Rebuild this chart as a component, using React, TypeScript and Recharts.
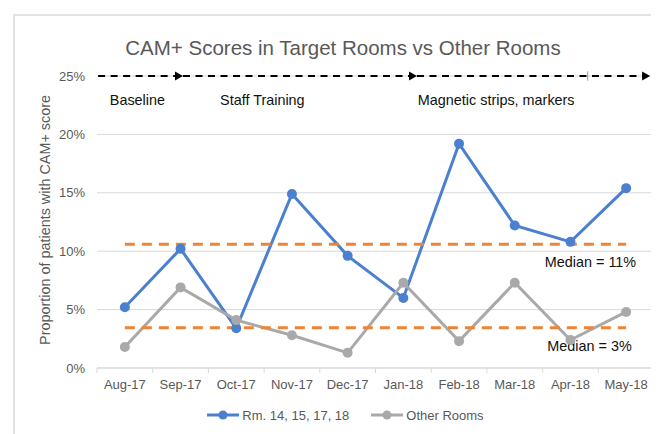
import React from 'react';
import { LineChart, Line, XAxis, YAxis, CartesianGrid, ReferenceLine, ReferenceDot, Legend } from 'recharts';

const months = ['Aug-17', 'Sep-17', 'Oct-17', 'Nov-17', 'Dec-17', 'Jan-18', 'Feb-18', 'Mar-18', 'Apr-18', 'May-18'];
const targetRooms = [5.2, 10.2, 3.4, 14.9, 9.6, 6.0, 19.2, 12.2, 10.8, 15.4];
const otherRooms = [1.8, 6.9, 4.1, 2.8, 1.3, 7.3, 2.3, 7.3, 2.4, 4.8];
const seriesNames = ['Rm. 14, 15, 17, 18', 'Other Rooms'];
const yTicks = [0, 5, 10, 15, 20, 25];
const medianTarget = 10.6;
const medianOther = 3.45;
// positions on an index axis (category i sits at i, band edges at i +/- 0.5)
const medianLabels = [
  { text: 'Median = 11%', x: 9.18, y: 8.65 },
  { text: 'Median = 3%', x: 9.1, y: 1.45 },
];
const phaseArrows = [
  { from: -0.48, to: 1.044 },
  { from: 1.044, to: 5.245 },
  { from: 5.245, to: 9.43 },
];
const phaseLabels = [
  { text: 'Baseline', x: -0.27, y: 22.5 },
  { text: 'Staff Training', x: 1.71, y: 22.5 },
  { text: 'Magnetic strips, markers', x: 5.26, y: 22.5 },
];
const phaseTick = 8.31;

const data = months.map((m, i) => ({ month: m, idx: i, target: targetRooms[i], other: otherRooms[i] }));

const FONT = "'Liberation Sans', Arial, sans-serif";
const BLUE = '#4A80CF';
const GRAY = '#A9A9A9';
const ORANGE = '#EE8435';
const GRID = '#D9D9D9';
const TEXT = '#595959';

const XTick = (props: any) => {
  const { x, y, payload, index, visibleTicksCount } = props;
  const half = payload && payload.offset ? payload.offset : 0;
  const axisY = y - 12;
  return (
    <g>
      <line x1={x - half} x2={x - half} y1={axisY} y2={axisY + 5} stroke={GRID} strokeWidth={1} />
      {index === visibleTicksCount - 1 && (
        <line x1={x + half} x2={x + half} y1={axisY} y2={axisY + 5} stroke={GRID} strokeWidth={1} />
      )}
      <text x={x} y={y} dy="0.71em" textAnchor="middle" fill={TEXT} fontSize={13} fontFamily={FONT}>
        {payload.value}
      </text>
    </g>
  );
};

const ArrowShape = (props: any) => {
  const { x1, y1, x2, y2 } = props;
  return (
    <g>
      <line x1={x1} y1={y1} x2={x2 - 6} y2={y2} stroke="#000" strokeWidth={2} strokeDasharray="7 5.5" />
      <polygon points={`${x2},${y2} ${x2 - 8},${y2 - 4.5} ${x2 - 8},${y2 + 4.5}`} fill="#000" />
    </g>
  );
};

const LegendContent = (props: any) => {
  const payload = [...(props.payload || [])].sort(
    (a: any, b: any) => seriesNames.indexOf(a.value) - seriesNames.indexOf(b.value)
  );
  return (
    <div
      style={{
        display: 'flex',
        justifyContent: 'center',
        alignItems: 'center',
        height: 22,
        gap: 22,
        paddingLeft: 29,
        fontFamily: FONT,
        fontSize: 13,
        color: TEXT,
      }}
    >
      {payload.map((p: any) => (
        <div key={p.value} style={{ display: 'flex', alignItems: 'center' }}>
          <svg width={32} height={12} style={{ display: 'block' }}>
            <line x1={0} x2={32} y1={6} y2={6} stroke={p.color} strokeWidth={3} />
            <circle cx={16} cy={6} r={4.5} fill={p.color} />
          </svg>
          <span style={{ marginLeft: 3 }}>{p.value}</span>
        </div>
      ))}
    </div>
  );
};

const YLabel = (props: any) => {
  const vb = props.viewBox || { x: 0, y: 0, width: 0, height: 0 };
  const cx = vb.x + 37;
  const cy = vb.y + vb.height / 2 - 2;
  return (
    <text
      x={cx}
      y={cy}
      dy="0.35em"
      textAnchor="middle"
      transform={`rotate(-90, ${cx}, ${cy})`}
      fill={TEXT}
      fontSize={14.4}
      fontFamily={FONT}
    >
      Proportion of patients with CAM+ score
    </text>
  );
};

const makeTextLabel = (text: string, anchor: 'start' | 'end') => (props: any) => {
  const vb = props.viewBox || { x: 0, y: 0 };
  return (
    <text x={vb.x} y={vb.y} textAnchor={anchor} fill="#111" fontSize={14.4} fontFamily={FONT}>
      {text}
    </text>
  );
};

export default function App() {
  return (
    <div style={{ position: 'relative', width: 651, height: 426, overflow: 'hidden', fontFamily: FONT }}>
      <div
        style={{
          position: 'absolute',
          left: 335,
          top: 29.6,
          transform: 'translateX(-50%)',
          whiteSpace: 'nowrap',
          fontSize: 20.5,
          lineHeight: '20.5px',
          color: TEXT,
          fontFamily: FONT,
        }}
      >
        CAM+ Scores in Target Rooms vs Other Rooms
      </div>
      <LineChart width={651} height={426} data={data} margin={{ top: 68, right: 5, left: 0, bottom: 8 }}>
        <CartesianGrid vertical={false} stroke={GRID} strokeWidth={1} />
        <XAxis
          dataKey="month"
          type="category"
          scale="band"
          stroke={GRID}
          tickLine={false}
          tickSize={5}
          tickMargin={7}
          height={36}
          tick={<XTick />}
          interval={0}
        />
        <XAxis xAxisId="num" dataKey="idx" type="number" domain={[-0.5, 9.5]} allowDataOverflow hide />
        <YAxis
          domain={[0, 25]}
          ticks={yTicks}
          tickFormatter={(v: number) => `${v}%`}
          axisLine={false}
          tickLine={false}
          tickSize={6}
          tickMargin={6}
          width={89}
          tick={{ fill: TEXT, fontSize: 13, fontFamily: FONT }}
          label={(p: any) => <YLabel {...p} />}
        />
        <Legend verticalAlign="bottom" height={22} content={<LegendContent />} />
        <Line
          name={seriesNames[0]}
          dataKey="target"
          stroke={BLUE}
          strokeWidth={3}
          dot={{ r: 5, fill: BLUE, stroke: BLUE, strokeWidth: 0 }}
          activeDot={false}
          isAnimationActive={false}
        />
        <Line
          name={seriesNames[1]}
          dataKey="other"
          stroke={GRAY}
          strokeWidth={3}
          dot={{ r: 5, fill: GRAY, stroke: GRAY, strokeWidth: 0 }}
          activeDot={false}
          isAnimationActive={false}
        />
        <ReferenceLine
          segment={[
            { x: months[0], y: medianTarget },
            { x: months[months.length - 1], y: medianTarget },
          ]}
          stroke={ORANGE}
          strokeWidth={3}
          strokeDasharray="10 7"
        />
        <ReferenceLine
          segment={[
            { x: months[0], y: medianOther },
            { x: months[months.length - 1], y: medianOther },
          ]}
          stroke={ORANGE}
          strokeWidth={3}
          strokeDasharray="10 7"
        />
        {phaseArrows.map((a, i) => (
          <ReferenceLine
            key={`arrow-${i}`}
            xAxisId="num"
            segment={[
              { x: a.from, y: 25 },
              { x: a.to, y: 25 },
            ]}
            shape={ArrowShape}
          />
        ))}
        <ReferenceLine
          xAxisId="num"
          segment={[
            { x: phaseTick, y: 24.6 },
            { x: phaseTick, y: 25.4 },
          ]}
          stroke="#9a9a9a"
          strokeWidth={1}
          ifOverflow="visible"
        />
        {phaseLabels.map((l, i) => (
          <ReferenceDot
            key={`phase-${i}`}
            xAxisId="num"
            x={l.x}
            y={l.y}
            r={0}
            fill="none"
            stroke="none"
            label={makeTextLabel(l.text, 'start')}
          />
        ))}
        {medianLabels.map((l, i) => (
          <ReferenceDot
            key={`median-${i}`}
            xAxisId="num"
            x={l.x}
            y={l.y}
            r={0}
            fill="none"
            stroke="none"
            label={makeTextLabel(l.text, 'end')}
          />
        ))}
      </LineChart>
      <div
        style={{
          position: 'absolute',
          left: 5,
          top: 6,
          width: 700,
          height: 500,
          border: '2px solid #E3E3E3',
          pointerEvents: 'none',
        }}
      />
    </div>
  );
}
